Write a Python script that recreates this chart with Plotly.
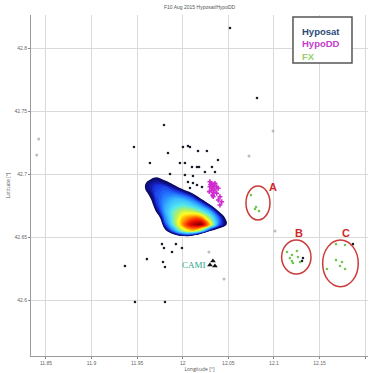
import plotly.graph_objects as go

# ---------------- data ----------------
title_text = "F10 Aug 2015 Hyposat/HypoDD"
x_ticks = [11.85, 11.9, 11.95, 12.0, 12.05, 12.1, 12.15, 12.2]
x_tick_labels = ["11.85", "11.9", "11.95", "12", "12.05", "12.1", "12.15", "12.2"]
y_ticks = [42.6, 42.65, 42.7, 42.75, 42.8]
y_tick_labels = ["42.6", "42.65", "42.7", "42.75", "42.8"]

# density surface (read on a coarse grid)
dens_lon = [11.95, 11.96, 11.97, 11.98, 11.99, 12.00, 12.01, 12.02, 12.03, 12.04, 12.05, 12.06]
dens_lat = [42.645, 42.65, 42.655, 42.66, 42.665, 42.67, 42.675, 42.68, 42.685, 42.69, 42.695, 42.70, 42.705]
dens_z = [
    [-3, -3, -3, -3, -3, -3, -3, -3, -3, -3, -3, -3],
    [-3, -3, -3, -3, 0.0, 1.0, 0.2, -3, -6, -6, -4, -3],
    [-3, -3, -3, 1.2, 4.0, 6.5, 7.5, 6.0, 2.0, 0.7, -1, -3],
    [-3, -3, -2, 2.9, 5.8, 8.0, 9.5, 10.0, 7.5, 3.5, 1.4, -2],
    [-3, -3, -0.5, 3.8, 6.0, 7.6, 8.3, 8.2, 6.2, 3.5, 0.9, -2],
    [-3, -2, 1.6, 4.3, 5.9, 6.7, 6.7, 6.0, 4.6, 1.8, -1, -3],
    [-3, -1, 2.6, 4.3, 5.2, 5.6, 5.2, 4.2, 2.2, -1, -3, -3],
    [-3, 0.5, 3.0, 4.0, 4.6, 4.6, 3.8, 2.0, -0.5, -2, -3, -3],
    [-2, 1.6, 3.2, 3.6, 3.6, 3.0, 1.8, -0.5, -2, -3, -3, -3],
    [-1.5, 2.4, 3.0, 3.2, 2.4, 1.0, -1, -2, -3, -3, -3, -3],
    [-2, 1.5, 2.5, 1.8, 0.45, -1, -2, -3, -3, -3, -3, -3],
    [-3, -1, 1.0, -0.5, -2, -3, -3, -3, -3, -3, -3, -3],
    [-3, -3, -3, -3, -3, -3, -3, -3, -3, -3, -3, -3],
]

# Hyposat epicentres
hyposat_lon = [12.0518, 12.0814, 11.9794, 11.9465, 12.0002, 12.0057, 12.0079, 12.0167, 12.0265,
               11.9838, 12.0386, 11.9969, 12.0024, 12.0101, 12.0156, 12.0178, 12.0320, 12.0243,
               11.9860, 12.0024, 12.0112, 12.0353, 12.0057, 12.0112, 12.0156, 12.0211, 12.0079,
               11.9640, 11.9772, 11.9794, 11.9925, 11.9991, 11.9882, 11.9607, 11.9783, 11.9805,
               11.9366, 11.9476, 11.9805, 12.1318, 12.1307, 12.1866]
hyposat_lat = [42.8159, 42.7603, 42.7389, 42.7214, 42.7214, 42.7222, 42.7214, 42.7183, 42.7183,
               42.7167, 42.7111, 42.7087, 42.7087, 42.7056, 42.7056, 42.7056, 42.7056, 42.7016,
               42.7000, 42.6992, 42.6984, 42.7016, 42.6937, 42.6929, 42.6913, 42.6897, 42.6889,
               42.7087, 42.6444, 42.6413, 42.6444, 42.6413, 42.6381, 42.6325, 42.6302, 42.6262,
               42.6270, 42.5984, 42.5984, 42.6333, 42.6310, 42.6444]

# HypoDD epicentres
hypodd_lon = [12.0298, 12.0317, 12.0334, 12.0353, 12.0372, 12.0298, 12.0317, 12.0353, 12.0389,
              12.0334, 12.0372, 12.0408, 12.0389, 12.0427, 12.0408, 12.0291, 12.0328, 12.0334,
              12.0304, 12.0342, 12.0320]
hypodd_lat = [42.6939, 42.6926, 42.6913, 42.6926, 42.6899, 42.6899, 42.6873, 42.6873, 42.6887,
              42.6852, 42.6847, 42.6820, 42.6794, 42.6780, 42.6754, 42.6860, 42.6833, 42.6820,
              42.6917, 42.6901, 42.6889]

# FX epicentres (clusters A, B, C)
fx_lon = [12.0748, 12.0803, 12.0836, 12.0792,
          12.1143, 12.1197, 12.1252, 12.1263, 12.1197, 12.1208, 12.1285, 12.1175,
          12.1680, 12.1779, 12.1680, 12.1724, 12.1746, 12.1779, 12.1581]
fx_lat = [42.6833, 42.6738, 42.6706, 42.6722,
          42.6381, 42.6357, 42.6389, 42.6341, 42.6310, 42.6294, 42.6302, 42.6333,
          42.6444, 42.6437, 42.6317, 42.6270, 42.6302, 42.6246, 42.6246]

# faint other events
other_lon = [11.8421, 11.8399, 12.0287, 12.0452, 12.1011, 12.0726, 12.0990]
other_lat = [42.7278, 42.7151, 42.6381, 42.6167, 42.6548, 42.7143, 42.7342]

# station CAMI
station_lon = [12.0331, 12.0298, 12.0353]
station_lat = [42.6310, 42.6278, 42.6270]
station_name = "CAMI"
station_label_lon = 12.0123
station_label_lat = 42.6278

# cluster ellipses
cluster_names = ["A", "B", "C"]
cluster_lon0 = [12.0693, 12.1084, 12.1534]
cluster_lon1 = [12.0956, 12.1406, 12.1924]
cluster_lat0 = [42.6635, 42.6206, 42.6106]
cluster_lat1 = [42.6905, 42.6476, 42.6476]
cluster_label_lon = [12.0989, 12.1274, 12.1790]
cluster_label_lat = [42.6897, 42.6532, 42.6532]

legend_names = ["Hyposat", "HypoDD", "FX"]
legend_colors = ["#2b4a78", "#c53ccf", "#94d06a"]

# ---------------- figure ----------------
fig = go.Figure()

colorscale = [
    [0.0, "rgba(255,255,255,0)"], [0.099, "rgba(255,255,255,0)"],
    [0.10, "#0c0c5e"], [0.17, "#10108e"], [0.22, "#1a30e0"], [0.30, "#2274ff"],
    [0.40, "#3abaff"], [0.50, "#52e8f0"], [0.60, "#b4f062"], [0.68, "#ffff22"],
    [0.76, "#ffa000"], [0.86, "#ff2400"], [0.94, "#c00000"], [1.0, "#7a0000"],
]
fig.add_trace(go.Contour(
    x=dens_lon, y=dens_lat, z=dens_z,
    zmin=0, zmax=10, zauto=False,
    colorscale=colorscale, showscale=False,
    contours=dict(start=1, end=10.4, size=0.2, coloring="fill", showlines=False),
    line=dict(width=0, smoothing=1.2),
    hoverinfo="skip",
))

fig.add_trace(go.Scatter(x=other_lon, y=other_lat, mode="markers",
                         marker=dict(size=3, color="#bcbcbc"), hoverinfo="skip"))
fig.add_trace(go.Scatter(x=hyposat_lon, y=hyposat_lat, mode="markers", name=legend_names[0],
                         marker=dict(size=2.6, color="#1c1c2a")))
fig.add_trace(go.Scatter(x=hypodd_lon, y=hypodd_lat, mode="markers", name=legend_names[1],
                         marker=dict(size=4, color="#d02ad0", symbol="cross")))
fig.add_trace(go.Scatter(x=fx_lon, y=fx_lat, mode="markers", name=legend_names[2],
                         marker=dict(size=2.6, color="#6cc850")))
fig.add_trace(go.Scatter(x=station_lon, y=station_lat, mode="markers",
                         marker=dict(size=5, color="#111111", symbol="triangle-up"), hoverinfo="skip"))

shapes = []
annotations = []
for i, nm in enumerate(cluster_names):
    shapes.append(dict(type="circle", xref="x", yref="y",
                       x0=cluster_lon0[i], x1=cluster_lon1[i], y0=cluster_lat0[i], y1=cluster_lat1[i],
                       line=dict(color="#cc3a3a", width=1.5)))
    annotations.append(dict(x=cluster_label_lon[i], y=cluster_label_lat[i], xref="x", yref="y",
                            text="<b>" + nm + "</b>", showarrow=False,
                            font=dict(size=11, color="#d02828", family="Liberation Sans")))

annotations.append(dict(x=station_label_lon, y=station_label_lat, xref="x", yref="y",
                        text=station_name, showarrow=False,
                        font=dict(size=9, color="#2aa886", family="Liberation Serif")))

# legend box
shapes.append(dict(type="rect", xref="paper", yref="paper", x0=0.7774, x1=0.9525, y0=0.8592, y1=0.9941,
                   line=dict(color="#555555", width=1.5), fillcolor="white", layer="above"))
legend_html = "<br>".join("<b><span style='color:%s'>%s</span></b>" % (c, n)
                          for n, c in zip(legend_names, legend_colors))
annotations.append(dict(x=0.797, y=0.975, xref="paper", yref="paper", xanchor="left", yanchor="top",
                        text=legend_html, showarrow=False, align="left",
                        font=dict(size=9.5, family="Liberation Sans")))

# title
annotations.append(dict(x=0.5, y=1.0, xref="paper", yref="paper", yanchor="bottom", yshift=3,
                        text=title_text, showarrow=False,
                        font=dict(size=5, color="#555555", family="Liberation Sans")))

axis_common = dict(showgrid=True, gridcolor="#d9d9d9", gridwidth=1, zeroline=False,
                   showline=True, linecolor="#9a9a9a", linewidth=1,
                   ticks="outside", ticklen=2, tickcolor="#888888", automargin=False,
                   tickfont=dict(size=5, color="#666666", family="Liberation Sans"))

fig.update_layout(
    width=370, height=373,
    margin=dict(l=31, r=2, t=15, b=17),
    paper_bgcolor="white", plot_bgcolor="white",
    showlegend=False,
    shapes=shapes, annotations=annotations,
    xaxis=dict(range=[11.8336, 12.2031], tickvals=x_ticks, ticktext=x_tick_labels,
               title=dict(text="Longitude [°]", font=dict(size=5, color="#555555"), standoff=1),
               **axis_common),
    yaxis=dict(range=[42.5556, 42.8262], tickvals=y_ticks, ticktext=y_tick_labels,
               title=dict(text="Latitude [°]", font=dict(size=5, color="#555555"), standoff=3),
               **axis_common),
)

fig.write_html("out.html", config={"displayModeBar": False},
               post_script="document.body.style.margin='0';document.body.style.overflow='hidden';")
